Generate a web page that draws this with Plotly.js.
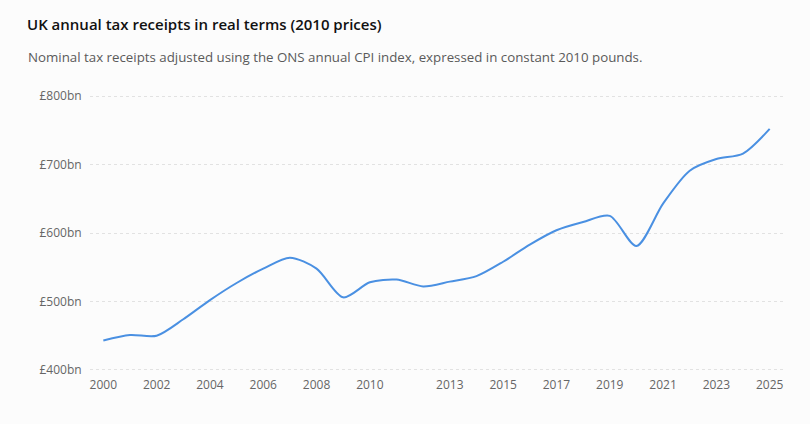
<!DOCTYPE html>
<html>
<head>
<meta charset="utf-8">
<script src="https://cdn.plot.ly/plotly-3.0.1.min.js"></script>
<style>
html,body{margin:0;padding:0;background:#fcfcfc;}
#chart{width:810px;height:424px;}
</style>
</head>
<body>
<div id="chart"></div>
<script>
const years = [2000,2001,2002,2003,2004,2005,2006,2007,2008,2009,2010,2011,2012,2013,2014,2015,2016,2017,2018,2019,2020,2021,2022,2023,2024,2025];
const receiptsBn = [443,451,450,474,502,527,548,564,548,506,528,532,522,529,537,558,583,604,616,625,581,643,691,708,716,752];
const xTickYears = [2000,2002,2004,2006,2008,2010,2013,2015,2017,2019,2021,2023,2025];
const yTickValues = [400,500,600,700,800];
const yTickLabels = yTickValues.map(v => '£' + v + 'bn');

const trace = {
  x: years,
  y: receiptsBn,
  type: 'scatter',
  mode: 'lines',
  line: {color: '#4a90e2', width: 2, shape: 'spline', smoothing: 0.8},
  hoverinfo: 'x+y'
};

const layout = {
  width: 810,
  height: 424,
  paper_bgcolor: '#fcfcfc',
  plot_bgcolor: '#fcfcfc',
  margin: {l: 90, r: 27, t: 94, b: 52},
  font: {family: 'Open Sans, Noto Sans, sans-serif', color: '#666', size: 12},
  title: {
    text: 'UK annual tax receipts in real terms (2010 prices)',
    font: {family: 'Open Sans, Noto Sans, sans-serif', size: 15, color: '#111', weight: 600},
    x: 27/810, xanchor: 'left', xref: 'container',
    y: 1 - 25/424, yanchor: 'middle', yref: 'container'
  },
  annotations: [{
    text: 'Nominal tax receipts adjusted using the ONS annual CPI index, expressed in constant 2010 pounds.',
    xref: 'paper', yref: 'paper',
    x: (26-90)/693, y: (372-57)/278,
    xanchor: 'left', yanchor: 'middle',
    showarrow: false,
    font: {family: 'Open Sans, Noto Sans, sans-serif', size: 13.3, color: '#5a5a5a'}
  }],
  xaxis: {
    range: [1999.5, 2025.5],
    tickvals: xTickYears,
    ticktext: xTickYears.map(String),
    showgrid: false,
    zeroline: false,
    showline: false,
    ticks: 'outside', ticklen: 2, tickcolor: 'rgba(0,0,0,0)',
    tickfont: {size: 12, color: '#666'}
  },
  yaxis: {
    range: [397, 803],
    tickvals: yTickValues,
    ticktext: yTickLabels,
    showgrid: true,
    gridcolor: '#e2e2e2',
    griddash: '3px,3px',
    gridwidth: 1,
    zeroline: false,
    showline: false,
    ticks: 'outside', ticklen: 5, tickcolor: 'rgba(0,0,0,0)',
    tickfont: {size: 12, color: '#666'}
  },
  showlegend: false
};

Plotly.newPlot('chart', [trace], layout, {displayModeBar: false, responsive: false});
</script>
</body>
</html>
